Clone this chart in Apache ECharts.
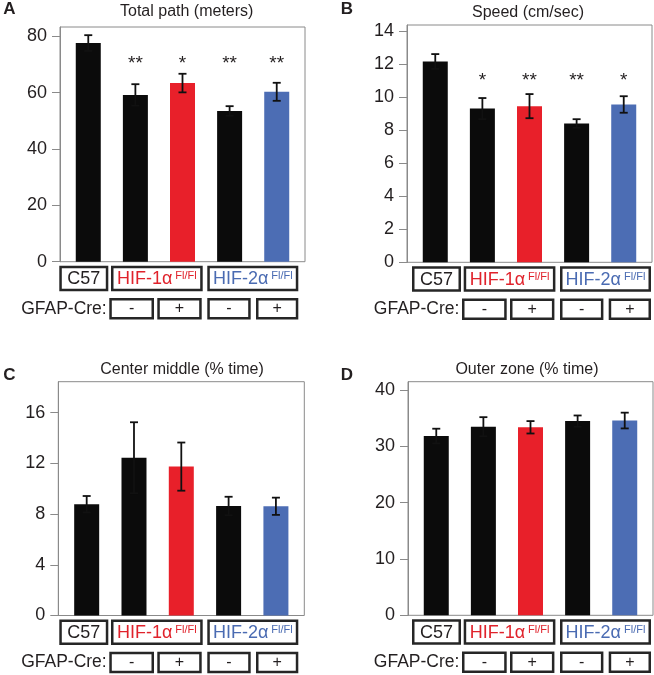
<!DOCTYPE html>
<html><head><meta charset="utf-8">
<script src="https://cdn.jsdelivr.net/npm/echarts@6/dist/echarts.min.js"></script>
<style>html,body{margin:0;padding:0;background:#fff}#c{width:654px;height:675px}</style>
</head><body><div id="c"></div>
<script>
// ---------------- data ----------------
const categories = ['C57', 'HIF-1α Fl/Fl GFAP-Cre -', 'HIF-1α Fl/Fl GFAP-Cre +', 'HIF-2α Fl/Fl GFAP-Cre -', 'HIF-2α Fl/Fl GFAP-Cre +'];
const genotypeLabels = ['C57', 'HIF-1α', 'HIF-2α'];
const floxLabel = 'Fl/Fl';
const creRowTitle = 'GFAP-Cre:';
const creLabels = ['-', '+', '-', '+'];
const panelLetters = ['A', 'B', 'C', 'D'];
const panelTitles = ['Total path (meters)', 'Speed (cm/sec)', 'Center middle (% time)', 'Outer zone (% time)'];

const totalPath = [77.6, 59.2, 63.4, 53.5, 60.3];
const totalPathErr = [2.8, 3.8, 3.3, 1.7, 3.2];
const totalPathStars = ['', '**', '*', '**', '**'];
const totalPathTicks = [0, 20, 40, 60, 80];

const speed = [12.15, 9.3, 9.45, 8.4, 9.55];
const speedErr = [0.45, 0.64, 0.73, 0.26, 0.5];
const speedStars = ['', '*', '**', '**', '*'];
const speedTicks = [0, 2, 4, 6, 8, 10, 12, 14];

const centerMiddle = [8.78, 12.45, 11.75, 8.64, 8.62];
const centerMiddleErr = [0.65, 2.8, 1.9, 0.73, 0.68];
const centerMiddleTicks = [0, 4, 8, 12, 16];

const outerZone = [31.85, 33.5, 33.4, 34.5, 34.6];
const outerZoneErr = [1.3, 1.7, 1.1, 1.0, 1.4];
const outerZoneTicks = [0, 10, 20, 30, 40];

// ---------------- style / layout ----------------
const FONT = "'Liberation Sans', Arial, Helvetica, sans-serif";
const barColors = ['#0b0b0b', '#0b0b0b', '#e8202a', '#0b0b0b', '#4c6db4'];
const genotypeColors = ['#231f20', '#e0222b', '#4a6bb2'];

const panels = [
  { values: totalPath, err: totalPathErr, stars: totalPathStars, ticks: totalPathTicks, yMax: 83.3, starLevel: 70.3,
    grid: { left: 60, top: 27, width: 245, height: 234.7 }, title: [186.7, 12], letter: [9.5, 9.5], blockShift: -0.7 },
  { values: speed, err: speedErr, stars: speedStars, ticks: speedTicks, yMax: 14.36, starLevel: 11.0,
    grid: { left: 407, top: 25, width: 245, height: 237.3 }, title: [528, 13], letter: [347, 9.5], blockShift: 5 },
  { values: centerMiddle, err: centerMiddleErr, stars: null, ticks: centerMiddleTicks, yMax: 18.45,
    grid: { left: 58.3, top: 381.7, width: 246, height: 233.8 }, title: [182, 370], letter: [9.5, 375.5], blockShift: 1 },
  { values: outerZone, err: outerZoneErr, stars: null, ticks: outerZoneTicks, yMax: 41.5,
    grid: { left: 408, top: 381.7, width: 245, height: 233.6 }, title: [527, 370], letter: [347, 375.5], blockShift: 4 }
];

const grids = [], xAxes = [], yAxes = [], series = [];
panels.forEach((p, k) => {
  grids.push(Object.assign({ show: true, borderColor: '#8a8a8a', borderWidth: 1, backgroundColor: 'transparent' }, p.grid));
  xAxes.push({ type: 'value', gridIndex: k, min: -0.6, max: 4.6, show: false });
  yAxes.push({
    type: 'value', gridIndex: k, min: 0, max: p.yMax, position: 'left',
    axisLine: { show: true, onZero: false, lineStyle: { color: '#8a8a8a', width: 1 } },
    axisTick: { show: true, length: 8, customValues: p.ticks, lineStyle: { color: '#8a8a8a', width: 1 } },
    axisLabel: { show: true, customValues: p.ticks, fontSize: 18, fontFamily: FONT, color: '#231f20', margin: 13 },
    splitLine: { show: false }
  });
  series.push({
    type: 'bar', xAxisIndex: k, yAxisIndex: k, barWidth: 25, silent: true,
    data: p.values.map((v, i) => ({ value: [i, v], itemStyle: { color: barColors[i] } }))
  });
  series.push({
    type: 'custom', xAxisIndex: k, yAxisIndex: k, silent: true, z: 5,
    data: p.values.map((v, i) => [i, v, p.err[i]]),
    encode: { x: 0, y: 1 },
    renderItem: (params, api) => {
      const x = api.value(0), v = api.value(1), e = api.value(2);
      const t = api.coord([x, v + e]), b = api.coord([x, v - e]);
      const cw = 4, st = { stroke: '#111', lineWidth: 1.8 };
      return { type: 'group', children: [
        { type: 'line', shape: { x1: t[0], y1: t[1], x2: b[0], y2: b[1] }, style: st },
        { type: 'line', shape: { x1: t[0] - cw, y1: t[1], x2: t[0] + cw, y2: t[1] }, style: st },
        { type: 'line', shape: { x1: b[0] - cw, y1: b[1], x2: b[0] + cw, y2: b[1] }, style: st }
      ] };
    }
  });
  if (p.stars) {
    series.push({
      type: 'custom', xAxisIndex: k, yAxisIndex: k, silent: true, z: 6,
      data: p.values.map((v, i) => [i, p.starLevel]),
      encode: { x: 0, y: 1 },
      renderItem: (params, api) => {
        const c = api.coord([api.value(0), api.value(1)]);
        return { type: 'text', x: c[0], y: c[1], style: {
          text: p.stars[params.dataIndex], fontSize: 19, fontFamily: FONT, fill: '#231f20',
          align: 'center', verticalAlign: 'middle' } };
      }
    });
  }
});

const chart = echarts.init(document.getElementById('c'), null, { renderer: 'canvas' });
chart.setOption({ animation: false, backgroundColor: '#fff', grid: grids, xAxis: xAxes, yAxis: yAxes, series: series });

// ---------------- annotations (letters, titles, label boxes) ----------------
const graphics = [];
const BOX_STROKE = '#262626', BW = 2.5;
function box(l, r, t, b) {
  graphics.push({ type: 'rect', silent: true, z: 10,
    shape: { x: l + BW / 2, y: t + BW / 2, width: r - l - BW, height: b - t - BW },
    style: { fill: '#fff', stroke: BOX_STROKE, lineWidth: BW } });
}
function text(x, y, str, opts) {
  graphics.push({ type: 'text', silent: true, z: 11, x: x, y: y,
    style: Object.assign({ text: str, fontFamily: FONT, fontSize: 18, fill: '#231f20', align: 'center', verticalAlign: 'middle' }, opts || {}) });
}
const row1Spans = [[0, 49], [51.7, 143.4], [148, 239]];
const row2Spans = [[50, 94.7], [98, 142.4], [148, 191.4], [196.7, 239]];

panels.forEach((p, k) => {
  text(p.letter[0], p.letter[1], panelLetters[k], { fontSize: 17, fontWeight: 'bold' });
  text(p.title[0], p.title[1], panelTitles[k], { fontSize: 16 });
  const origin = chart.convertToPixel({ gridIndex: k }, [-0.6, 0]);
  const left = origin[0] + p.blockShift, bottom = origin[1];
  const r1t = bottom + 4, r1b = bottom + 29.5, r2t = bottom + 36.3, r2b = bottom + 57.8;
  row1Spans.forEach((s, j) => {
    box(left + s[0], left + s[1], r1t, r1b);
    const cx = left + (s[0] + s[1]) / 2, cy = (r1t + r1b) / 2 + 0.5;
    if (j === 0) {
      text(cx, cy, genotypeLabels[j], { fill: genotypeColors[j] });
    } else {
      graphics.push({ type: 'text', silent: true, z: 11, x: cx, y: cy,
        style: { text: '{m|' + genotypeLabels[j] + '}{s|' + floxLabel + '}', align: 'center', verticalAlign: 'middle',
          rich: {
            m: { fontFamily: FONT, fontSize: 18, fill: genotypeColors[j], lineHeight: 22 },
            s: { fontFamily: FONT, fontSize: 11, fill: genotypeColors[j], verticalAlign: 'top', lineHeight: 12, padding: [3, 0, 0, 3] }
          } } });
    }
  });
  text(left + 47.4, (r2t + r2b) / 2, creRowTitle, { align: 'right', fontSize: 17.5 });
  row2Spans.forEach((s, j) => {
    box(left + s[0], left + s[1], r2t, r2b);
    text(left + (s[0] + s[1]) / 2, (r2t + r2b) / 2, creLabels[j], { fontSize: 16 });
  });
});
chart.setOption({ graphic: graphics });
</script>
</body></html>
